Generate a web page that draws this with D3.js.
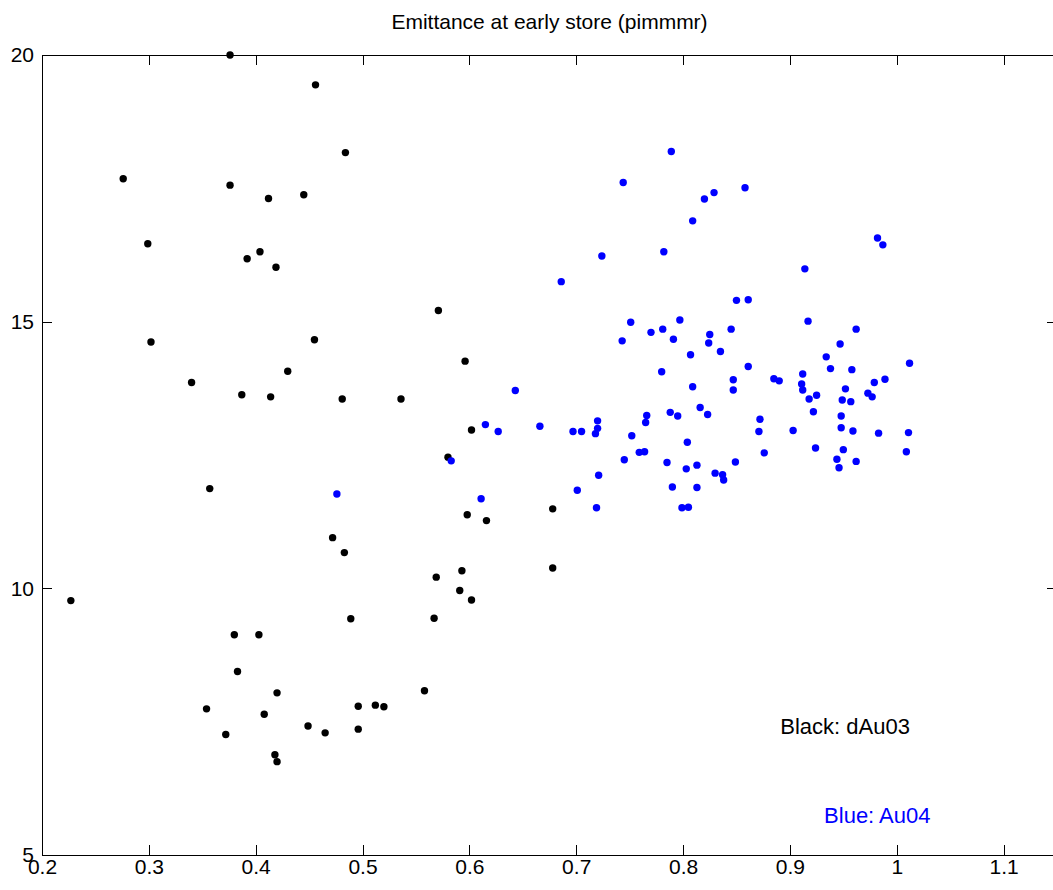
<!DOCTYPE html>
<head>
<meta charset="utf-8">
<style>
body { margin: 0; background: #fff; }
text { font-family: "Liberation Sans", Arial, sans-serif; }
.axis path, .axis line { stroke: #000; stroke-width: 1px; shape-rendering: crispEdges; }
.axis text { font-size: 21px; fill: #000; }
</style>
</head>
<body>
<script src="https://d3js.org/d3.v7.min.js"></script>
<script>

// dAu03 points (black)
var blackX = [0.376,0.456,0.484,0.276,0.376,0.412,0.445,0.299,0.404,0.392,0.419,0.571,0.455,0.302,0.430,0.340,0.387,0.414,0.481,0.536,0.596,0.602,0.580,0.357,0.678,0.598,0.616,0.472,0.483,0.678,0.593,0.569,0.591,0.602,0.489,0.567,0.227,0.380,0.403,0.383,0.420,0.354,0.408,0.449,0.465,0.496,0.512,0.520,0.558,0.496,0.372,0.418,0.420];
var blackY = [20.0,19.44,18.17,17.68,17.56,17.31,17.38,16.46,16.31,16.18,16.02,15.21,14.66,14.62,14.07,13.86,13.63,13.59,13.55,13.55,14.26,12.97,12.46,11.87,11.49,11.38,11.27,10.95,10.67,10.38,10.33,10.21,9.96,9.78,9.43,9.44,9.77,9.13,9.13,8.44,8.04,7.74,7.64,7.42,7.29,7.79,7.81,7.78,8.08,7.36,7.26,6.88,6.75];

// Au04 points (blue)
var blueX = [0.789,0.744,0.858,0.829,0.820,0.809,0.982,0.987,0.782,0.724,
             0.914,0.686,0.850,0.861,0.917,0.751,0.797,0.781,0.770,0.845,
             0.962,0.743,0.791,0.825,0.824,0.947,0.835,0.807,0.934,0.861,
             1.012,0.938,0.958,0.780,0.912,0.847,0.885,0.890,0.989,0.979,
             0.911,0.912,0.847,0.809,0.952,0.973,0.977,0.925,0.918,0.949,
             0.957,0.816,0.922,0.788,0.823,0.795,0.766,0.948,0.720,0.765,
             0.872,0.720,0.697,0.705,0.718,0.871,0.903,0.948,0.959,0.983,
             1.011,0.752,0.804,0.924,0.950,1.009,0.759,0.764,0.876,0.745,
             0.785,0.849,0.944,0.962,0.803,0.813,0.946,0.721,0.830,0.837,
             0.838,0.701,0.790,0.813,0.719,0.799,0.805,0.643,0.615,0.627,
             0.666,0.583,0.476,0.611];
var blueY = [18.19,17.61,17.51,17.42,17.30,16.89,16.57,16.44,16.31,16.23,
             15.99,15.75,15.40,15.41,15.01,14.99,15.03,14.86,14.80,14.86,
             14.86,14.64,14.67,14.76,14.60,14.58,14.44,14.38,14.34,14.16,
             14.22,14.12,14.10,14.06,14.02,13.91,13.93,13.89,13.92,13.86,
             13.83,13.72,13.72,13.78,13.74,13.66,13.59,13.62,13.55,13.53,
             13.50,13.39,13.31,13.30,13.26,13.23,13.24,13.23,13.14,13.11,
             13.17,13.00,12.94,12.94,12.90,12.94,12.96,13.01,12.95,12.91,
             12.92,12.86,12.74,12.63,12.60,12.56,12.55,12.56,12.54,12.41,
             12.36,12.37,12.42,12.38,12.24,12.31,12.26,12.12,12.16,12.13,
             12.03,11.84,11.90,11.89,11.51,11.51,11.52,13.71,13.07,12.94,
             13.04,12.39,11.77,11.68];

// ticks
var xTicks = [0.2,0.3,0.4,0.5,0.6,0.7,0.8,0.9,1.0,1.1];
var yTicks = [5,10,15,20];

var title = "Emittance at early store (pimmmr)";
var labelBlack = "Black: dAu03";
var labelBlue = "Blue: Au04";

// set the dimensions and margins of the graph
var margin = {top: 55, right: -4, bottom: 35, left: 42},
    width = 1053 - margin.left - margin.right,
    height = 890 - margin.top - margin.bottom;

var x = d3.scaleLinear().domain([0.2, 1.15]).range([0, width]);
var y = d3.scaleLinear().domain([5, 20]).range([height, 0]);

var svg = d3.select("body").append("svg")
    .attr("width", 1053)
    .attr("height", 890);

var g = svg.append("g")
    .attr("transform", "translate(" + margin.left + "," + margin.top + ")");

var fmt = function(d) { return String(+d.toFixed(1)); };

// bottom axis, ticks pointing in
g.append("g")
    .attr("class", "axis")
    .attr("transform", "translate(0," + height + ")")
    .call(d3.axisBottom(x).tickValues(xTicks).tickFormat(fmt)
          .tickSizeInner(-10).tickSizeOuter(0).tickPadding(4));

// top axis
g.append("g")
    .attr("class", "axis")
    .call(d3.axisTop(x).tickValues(xTicks).tickFormat("")
          .tickSizeInner(-10).tickSizeOuter(0));

// left axis
g.append("g")
    .attr("class", "axis")
    .call(d3.axisLeft(y).tickValues(yTicks).tickFormat(fmt)
          .tickSizeInner(-10).tickSizeOuter(0).tickPadding(8));

// right axis
g.append("g")
    .attr("class", "axis")
    .attr("transform", "translate(" + width + ",0)")
    .call(d3.axisRight(y).tickValues(yTicks).tickFormat("")
          .tickSizeInner(-10).tickSizeOuter(0));

// black points
g.selectAll(".dotBlack")
    .data(d3.range(blackX.length))
  .enter().append("circle")
    .attr("class", "dotBlack")
    .attr("cx", function(i) { return x(blackX[i]); })
    .attr("cy", function(i) { return y(blackY[i]); })
    .attr("r", 3.7)
    .style("fill", "#000");

// blue points
g.selectAll(".dotBlue")
    .data(d3.range(blueX.length))
  .enter().append("circle")
    .attr("class", "dotBlue")
    .attr("cx", function(i) { return x(blueX[i]); })
    .attr("cy", function(i) { return y(blueY[i]); })
    .attr("r", 3.7)
    .style("fill", "#0000ff");

// title
svg.append("text")
    .attr("x", margin.left + x(0.675))
    .attr("y", 29)
    .attr("text-anchor", "middle")
    .style("font-size", "21px")
    .text(title);

// in-plot labels
g.append("text")
    .attr("x", x(0.891))
    .attr("y", y(7.27))
    .style("font-size", "22px")
    .style("fill", "#000")
    .text(labelBlack);

g.append("text")
    .attr("x", x(0.932))
    .attr("y", y(5.6))
    .style("font-size", "22px")
    .style("fill", "#0000ff")
    .text(labelBlue);

</script>
</body>
